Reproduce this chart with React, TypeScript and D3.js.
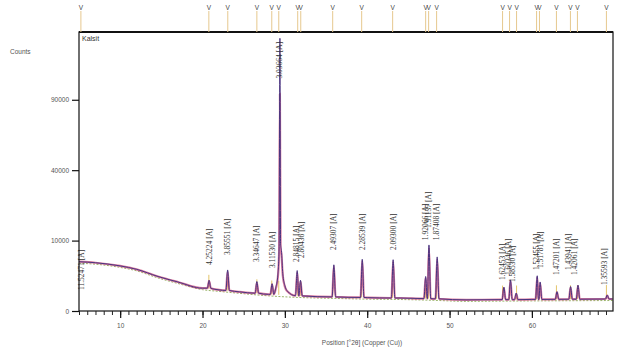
import React, { useRef, useEffect } from "react";
import * as d3 from "d3";

// background level of the scan, [2theta, counts]
const background: [number, number][] = [
  [5, 4900], [7, 4700], [10, 4100], [12, 3500], [14.6, 2400], [17, 1700],
  [20, 1050], [22, 900], [24.5, 740], [28, 560], [32, 450], [36, 400],
  [40, 360], [44, 340], [48, 300], [52, 250], [56, 260], [60, 270],
  [65, 280], [69.8, 290],
];

// main calcite reflection, drawn point by point
const mainPeakObs: [number, number][] = [
  [28.9, 1100], [29.15, 2600], [29.3, 8000], [29.4, 150000], [29.48, 9000],
  [29.58, 7400], [29.75, 2800], [30.0, 1300], [30.3, 800],
];
const mainPeakCalc: [number, number][] = [
  [28.9, 1000], [29.15, 2300], [29.3, 7000], [29.4, 95000], [29.48, 8000],
  [29.58, 6600], [29.75, 2500], [30.0, 1200], [30.3, 780],
];

// other peaks
const peakPos = [20.8, 23.05, 26.6, 28.45, 31.5, 31.9, 35.95, 39.4, 43.15, 47.1, 47.5, 48.5, 56.6, 57.4, 58.1, 60.65, 61.0, 63.05, 64.7, 65.6, 69.15];
const peakTop = [1900, 3400, 1750, 1500, 3300, 1900, 4300, 5400, 5300, 2400, 8800, 5900, 1150, 1950, 650, 2500, 1700, 750, 1200, 1350, 520];
const peakCalcTop = [1800, 3100, 1600, 1400, 3000, 1750, 4000, 5000, 4900, 2200, 8000, 5400, 1050, 1800, 600, 2300, 1550, 700, 1100, 1250, 480];
const peakBase = [1050, 850, 640, 560, 470, 460, 400, 370, 340, 310, 310, 300, 260, 260, 260, 270, 270, 275, 280, 280, 290];

// peak labels (d-spacing), position and level of label foot in counts
const labelPos = [5.25, 20.8, 23.05, 26.6, 28.45, 29.4, 31.4, 32.05, 35.95, 39.4, 43.15, 47.05, 47.5, 48.45, 56.45, 57.1, 57.65, 60.6, 61.0, 63.0, 64.4, 65.2, 68.8];
const labelText = ["11.52471 [A]", "4.25224 [A]", "3.85551 [A]", "3.34647 [A]", "3.11530 [A]", "3.03664 [A]", "2.84815 [A]", "2.80436 [A]", "2.49307 [A]", "2.28539 [A]", "2.09300 [A]", "1.92066 [A]", "1.91137 [A]", "1.87408 [A]", "1.62453 [A]", "1.60346 [A]", "1.58530 [A]", "1.52455 [A]", "1.51781 [A]", "1.47201 [A]", "1.43941 [A]", "1.42061 [A]", "1.35593 [A]"];
const labelLevel = [890, 4260, 6310, 4830, 3720, 109000, 4830, 5650, 7490, 7490, 7490, 10100, 13900, 10100, 1930, 2600, 1690, 3380, 3720, 2600, 3380, 2600, 1360];

// reference pattern (Kalsit) markers
const refPos = [5.23, 20.77, 23.07, 26.6, 28.41, 29.26, 31.56, 31.93, 35.81, 39.33, 43.09, 47.1, 47.46, 48.43, 56.44, 57.29, 58.14, 60.57, 60.92, 62.98, 64.68, 65.53, 69.05];

const xTicks = [10, 20, 30, 40, 50, 60];
const yTicks = [0, 10000, 40000, 90000];

const W = 619;
const H = 356;
const m = { left: 79, right: 6, top: 32, bottom: 45 };

export default function App() {
  const ref = useRef<SVGSVGElement>(null);

  useEffect(() => {
    const svg = d3.select(ref.current);
    svg.selectAll("*").remove();

    const x = d3.scaleLinear().domain([5, 69.85]).range([m.left, W - m.right]);
    const y = d3.scaleSqrt().domain([0, 157000]).range([H - m.bottom, m.top]);
    const y0 = H - m.bottom;

    const peakWidth = 0.21;
    const inPeak = (t: number) =>
      peakPos.some(p => Math.abs(t - p) <= peakWidth) || (t >= 28.9 && t <= 30.3);

    const build = (tops: number[], main: [number, number][]) => {
      const pts: [number, number][] = background.filter(d => !inPeak(d[0]));
      peakPos.forEach((p, i) => {
        pts.push([p - peakWidth, peakBase[i]], [p, tops[i]], [p + peakWidth, peakBase[i]]);
      });
      main.forEach(d => pts.push(d));
      return pts.sort((a, b) => a[0] - b[0]);
    };

    const line = d3.line<[number, number]>()
      .x(d => x(d[0]))
      .y(d => y(d[1]))
      .curve(d3.curveMonotoneX);

    svg.append("defs").append("clipPath").attr("id", "plot")
      .append("rect")
      .attr("x", m.left).attr("y", m.top)
      .attr("width", W - m.left - m.right).attr("height", y0 - m.top);

    const plot = svg.append("g").attr("clip-path", "url(#plot)");

    // reference sticks inside the plot
    const bgAt = d3.scaleLinear().domain(background.map(d => d[0])).range(background.map(d => d[1]));
    plot.selectAll("line.stick")
      .data(refPos.slice(1))
      .enter().append("line")
      .attr("x1", d => x(d)).attr("x2", d => x(d))
      .attr("y1", d => y(bgAt(d))).attr("y2", d => y(bgAt(d)) - 14)
      .attr("stroke", "#e3c46a").attr("stroke-width", 1);

    // background line
    plot.append("path")
      .datum(background)
      .attr("d", line)
      .attr("fill", "none")
      .attr("stroke", "#9bb56a")
      .attr("stroke-width", 1)
      .attr("stroke-dasharray", "2,1.5")
      .attr("transform", "translate(0,1.5)");

    // calculated profile
    plot.append("path")
      .datum(build(peakCalcTop, mainPeakCalc))
      .attr("d", line)
      .attr("fill", "none")
      .attr("stroke", "#d0507f")
      .attr("stroke-width", 2.2)
      .attr("stroke-opacity", 0.75);

    // observed profile
    plot.append("path")
      .datum(build(peakTop, mainPeakObs))
      .attr("d", line)
      .attr("fill", "none")
      .attr("stroke", "#4a3480")
      .attr("stroke-width", 1);

    // peak labels
    svg.selectAll("text.peak")
      .data(labelText)
      .enter().append("text")
      .attr("transform", (d, i) => `translate(${x(labelPos[i]) + 2.5},${y(labelLevel[i])}) rotate(-90)`)
      .attr("font-family", "Liberation Serif, serif")
      .attr("font-size", 7.5)
      .attr("fill", "#333")
      .text(d => d);

    // frame
    svg.append("rect")
      .attr("x", m.left).attr("y", m.top)
      .attr("width", W - m.left - m.right).attr("height", y0 - m.top)
      .attr("fill", "none").attr("stroke", "#111").attr("stroke-width", 1.2);
    svg.append("line")
      .attr("x1", m.left).attr("x2", W - m.right)
      .attr("y1", m.top).attr("y2", m.top)
      .attr("stroke", "#111").attr("stroke-width", 2);

    // top reference markers
    const marks = svg.append("g");
    marks.selectAll("line")
      .data(refPos)
      .enter().append("line")
      .attr("x1", d => x(d)).attr("x2", d => x(d))
      .attr("y1", 11).attr("y2", m.top)
      .attr("stroke", "#e6c88e").attr("stroke-width", 1);
    marks.selectAll("text")
      .data(refPos)
      .enter().append("text")
      .attr("x", d => x(d)).attr("y", 10)
      .attr("text-anchor", "middle")
      .attr("font-family", "Liberation Sans, sans-serif")
      .attr("font-size", 6.5)
      .attr("fill", "#444")
      .text("V");

    svg.append("text")
      .attr("x", m.left + 3).attr("y", m.top + 9)
      .attr("font-family", "Liberation Sans, sans-serif")
      .attr("font-size", 7)
      .attr("fill", "#333")
      .text("Kalsit");

    // x axis
    const xAxis = svg.append("g").attr("transform", `translate(0,${y0})`);
    xAxis.call(
      d3.axisBottom(x).tickValues(d3.range(5, 70, 1)).tickSize(4).tickFormat(() => "")
    );
    xAxis.call(g => g.select(".domain").remove());
    xAxis.selectAll("line").attr("stroke", "#222");
    const xMajor = svg.append("g").attr("transform", `translate(0,${y0})`);
    xMajor.call(d3.axisBottom(x).tickValues(xTicks).tickSize(7).tickPadding(5).tickFormat(d3.format("d")));
    xMajor.select(".domain").remove();
    xMajor.selectAll("line").attr("stroke", "#111").attr("stroke-width", 1.2);
    xMajor.selectAll("text")
      .attr("font-family", "Liberation Sans, sans-serif")
      .attr("font-size", 6.5)
      .attr("fill", "#555");

    // y axis
    const yAxis = svg.append("g").attr("transform", `translate(${m.left},0)`);
    yAxis.call(d3.axisLeft(y).tickValues(yTicks).tickSize(7).tickPadding(3).tickFormat(d3.format("d")));
    yAxis.select(".domain").remove();
    yAxis.selectAll("line").attr("stroke", "#111").attr("stroke-width", 1.2);
    yAxis.selectAll("text")
      .attr("font-family", "Liberation Sans, sans-serif")
      .attr("font-size", 6.5)
      .attr("fill", "#555");

    svg.append("text")
      .attr("x", 10).attr("y", 54)
      .attr("font-family", "Liberation Sans, sans-serif")
      .attr("font-size", 6.5)
      .attr("fill", "#555")
      .text("Counts");

    svg.append("text")
      .attr("x", 362).attr("y", 345)
      .attr("text-anchor", "middle")
      .attr("font-family", "Liberation Sans, sans-serif")
      .attr("font-size", 6.5)
      .attr("fill", "#555")
      .text("Position [°2θ] (Copper (Cu))");
  }, []);

  return (
    <svg
      ref={ref}
      width={W}
      height={H}
      style={{ position: "absolute", left: 0, top: 0, background: "#fff" }}
    />
  );
}
